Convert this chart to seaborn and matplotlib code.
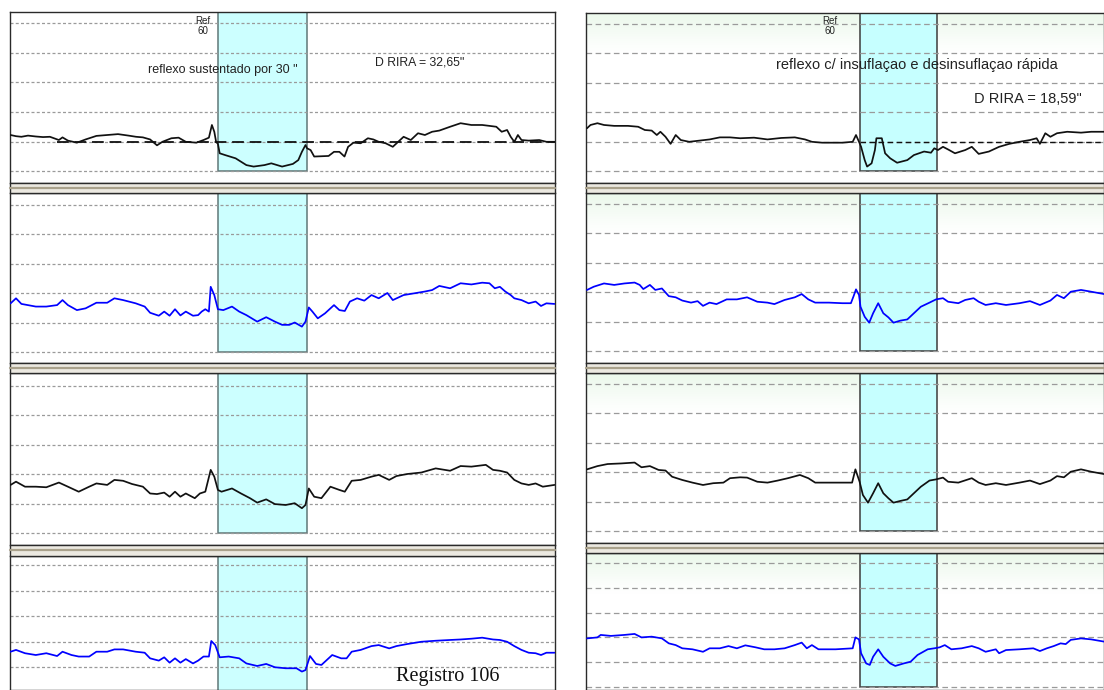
import matplotlib
matplotlib.use("Agg")
import matplotlib.pyplot as plt
import pandas as pd
import seaborn as sns
from matplotlib.patches import Rectangle

# ---------------------------------------------------------------------------
# Data: time (s) and signal level (grid units) for each channel strip
# ---------------------------------------------------------------------------
# Left record: sustained reflex (stimulus window 69-99 s)
LEFT_WINDOW = (69.2, 99.1)
LEFT_CH1 = [(0.2, 1.22), (2.0, 1.18), (3.8, 1.16), (6.0, 1.20), (8.6, 1.17), (11.0, 1.15),
            (13.3, 1.16), (16.3, 1.05), (17.5, 1.14), (19.3, 1.03), (22.3, 0.96), (25.2, 1.07),
            (28.8, 1.19), (32.4, 1.22), (36.0, 1.25), (39.5, 1.20), (42.0, 1.16), (44.3, 1.14),
            (46.7, 1.07), (49.0, 0.87), (50.8, 0.99), (53.8, 1.11), (56.2, 1.13), (58.6, 0.99),
            (62.1, 0.96), (64.5, 1.05), (66.3, 1.13), (67.3, 1.56), (68.1, 1.33), (68.7, 0.99),
            (69.3, 0.92), (69.9, 0.60), (71.7, 0.54), (75.2, 0.43), (78.8, 0.20), (81.2, 0.15),
            (84.8, 0.20), (87.1, 0.26), (90.7, 0.15), (94.3, 0.24), (96.1, 0.37), (97.3, 0.65),
            (98.5, 0.88), (99.0, 0.77), (100.2, 0.71), (101.4, 0.49), (106.2, 0.51), (108.0, 0.65),
            (109.8, 0.65), (111.5, 0.49), (112.7, 0.82), (114.5, 0.96), (116.9, 0.94), (119.3, 1.11),
            (121.1, 1.07), (122.9, 0.99), (125.2, 0.94), (127.6, 0.82), (129.4, 0.99), (131.2, 1.16),
            (133.6, 1.05), (136.0, 1.28), (138.3, 1.22), (140.7, 1.33), (143.1, 1.37), (146.7, 1.50),
            (150.2, 1.62), (153.8, 1.56), (157.4, 1.56), (159.8, 1.53), (162.1, 1.50), (163.9, 1.33),
            (165.7, 1.39), (166.9, 1.16), (168.1, 0.99), (169.3, 1.22), (170.5, 1.05), (172.9, 1.03),
            (176.4, 1.05), (178.8, 0.99), (181.5, 0.99)]
LEFT_CH2 = [(0.2, 1.65), (2.0, 1.82), (3.8, 1.63), (8.6, 1.54), (12.1, 1.54), (15.7, 1.59),
            (17.5, 1.76), (19.3, 1.59), (22.3, 1.42), (25.2, 1.48), (28.8, 1.67), (32.4, 1.67),
            (34.8, 1.82), (37.7, 1.76), (41.9, 1.65), (44.9, 1.54), (46.7, 1.33), (49.6, 1.23),
            (51.4, 1.37), (53.2, 1.23), (55.0, 1.45), (56.8, 1.24), (58.6, 1.37), (61.0, 1.23),
            (62.7, 1.25), (63.9, 1.37), (65.1, 1.45), (66.3, 1.37), (66.9, 2.21), (68.1, 1.93),
            (69.3, 1.45), (71.1, 1.42), (74.0, 1.54), (76.4, 1.37), (78.8, 1.25), (82.4, 1.03),
            (85.4, 1.18), (88.3, 1.03), (90.7, 0.92), (93.1, 0.92), (94.9, 1.00), (97.3, 0.86),
            (98.5, 1.03), (99.6, 1.51), (100.8, 1.37), (102.6, 1.14), (105.0, 1.31), (108.0, 1.59),
            (109.8, 1.42), (111.6, 1.39), (113.3, 1.71), (115.7, 1.82), (118.1, 1.74), (120.5, 1.93),
            (122.9, 1.82), (125.8, 2.00), (127.6, 1.76), (131.2, 1.93), (134.8, 1.99), (138.3, 2.05),
            (140.7, 2.10), (143.1, 2.24), (146.7, 2.16), (150.2, 2.33), (153.8, 2.29), (157.4, 2.35),
            (159.8, 2.33), (161.6, 2.16), (163.3, 2.21), (165.1, 2.05), (166.9, 1.93), (168.1, 1.82),
            (170.5, 1.76), (172.9, 1.65), (175.2, 1.71), (177.0, 1.56), (178.8, 1.65), (181.5, 1.63)]
LEFT_CH3 = [(0.2, 1.63), (2.0, 1.74), (5.0, 1.57), (8.6, 1.57), (12.1, 1.55), (16.3, 1.71),
            (19.3, 1.57), (22.9, 1.40), (26.4, 1.57), (28.8, 1.68), (32.4, 1.63), (34.8, 1.80),
            (37.7, 1.77), (40.7, 1.66), (44.3, 1.57), (46.7, 1.34), (49.0, 1.32), (51.4, 1.37),
            (53.2, 1.23), (55.0, 1.40), (56.8, 1.23), (58.6, 1.34), (61.6, 1.18), (63.3, 1.34),
            (65.1, 1.40), (66.9, 2.14), (68.1, 1.91), (69.3, 1.46), (70.5, 1.40), (74.0, 1.51),
            (77.0, 1.34), (80.0, 1.18), (82.4, 1.03), (85.4, 1.14), (88.3, 0.98), (91.9, 0.95),
            (94.9, 1.01), (97.3, 0.84), (98.5, 0.95), (99.6, 1.51), (101.4, 1.23), (103.8, 1.18),
            (106.8, 1.57), (109.8, 1.46), (111.6, 1.40), (113.9, 1.77), (116.9, 1.80), (120.5, 1.91),
            (122.9, 1.97), (126.4, 1.80), (128.8, 1.93), (132.4, 2.00), (137.1, 2.05), (141.9, 2.19),
            (146.7, 2.11), (150.2, 2.27), (153.8, 2.25), (158.6, 2.31), (161.0, 2.14), (163.3, 2.11),
            (165.7, 2.05), (168.1, 1.80), (170.5, 1.68), (172.9, 1.63), (175.2, 1.68), (177.6, 1.57),
            (181.5, 1.63)]
LEFT_CH4 = [(0.2, 1.60), (2.0, 1.67), (5.0, 1.54), (8.6, 1.47), (12.1, 1.54), (15.7, 1.43),
            (17.5, 1.60), (20.5, 1.47), (22.9, 1.41), (26.4, 1.41), (28.8, 1.60), (32.4, 1.60),
            (34.8, 1.69), (37.7, 1.69), (41.9, 1.60), (44.9, 1.56), (46.7, 1.34), (49.6, 1.25),
            (51.4, 1.38), (53.2, 1.17), (55.0, 1.34), (56.8, 1.17), (58.6, 1.31), (61.0, 1.14),
            (62.7, 1.25), (64.5, 1.41), (66.3, 1.41), (67.1, 2.02), (68.4, 1.86), (69.9, 1.38),
            (72.9, 1.41), (76.4, 1.34), (78.8, 1.14), (82.4, 1.04), (85.4, 1.12), (88.3, 0.99),
            (91.9, 0.95), (95.5, 0.95), (97.3, 0.82), (98.5, 0.88), (100.0, 1.43), (102.0, 1.12),
            (103.8, 1.08), (107.4, 1.47), (110.4, 1.34), (112.2, 1.34), (113.9, 1.60), (116.9, 1.67),
            (120.5, 1.82), (122.9, 1.86), (126.4, 1.73), (128.8, 1.82), (132.4, 1.90), (137.1, 1.99),
            (141.9, 2.03), (146.7, 2.06), (150.2, 2.08), (153.8, 2.11), (157.4, 2.15), (161.0, 2.08),
            (163.3, 2.06), (165.7, 1.99), (168.1, 1.82), (170.5, 1.67), (172.9, 1.56), (175.2, 1.54),
            (177.0, 1.47), (178.8, 1.56), (181.5, 1.56)]

# Right record: reflex with fast inflation / deflation (stimulus window 91-117 s)
RIGHT_WINDOW = (91.2, 117.1)
RIGHT_CH1 = [(0.35, 1.45), (1.5, 1.56), (3.8, 1.62), (6.0, 1.56), (9.4, 1.53), (14.0, 1.53),
             (17.4, 1.50), (19.6, 1.39), (21.9, 1.37), (23.6, 1.22), (24.8, 1.33), (26.5, 1.16),
             (28.2, 0.92), (29.9, 1.22), (31.6, 1.05), (34.4, 0.99), (37.8, 1.03), (41.2, 1.07),
             (44.6, 1.14), (48.0, 1.14), (51.4, 1.11), (56.0, 1.13), (60.5, 1.07), (65.1, 1.12),
             (69.6, 1.14), (73.0, 1.07), (75.3, 0.99), (78.7, 0.96), (82.1, 0.96), (85.5, 0.96),
             (88.9, 0.99), (90.0, 1.22), (91.0, 0.99), (91.7, 0.82), (92.9, 0.37), (93.7, 0.15),
             (95.2, 0.26), (96.3, 0.71), (96.8, 1.11), (98.6, 1.11), (99.7, 0.60), (101.4, 0.43),
             (103.7, 0.28), (107.1, 0.37), (109.3, 0.54), (112.7, 0.66), (115.0, 0.62), (116.1, 0.77),
             (117.3, 0.71), (119.0, 0.82), (120.7, 0.73), (123.0, 0.60), (126.4, 0.71), (128.6, 0.82),
             (130.9, 0.58), (134.3, 0.66), (137.7, 0.82), (141.1, 0.92), (144.5, 0.99), (148.0, 1.05),
             (150.2, 1.11), (151.3, 0.92), (153.1, 1.28), (154.8, 1.16), (157.0, 1.28), (160.4, 1.33),
             (165.0, 1.30), (168.4, 1.33), (172.7, 1.33)]
RIGHT_CH2 = [(0.35, 2.07), (2.6, 2.18), (6.0, 2.29), (9.4, 2.24), (12.8, 2.29), (16.2, 2.32),
             (17.9, 2.24), (19.1, 2.10), (21.3, 2.24), (23.1, 2.07), (25.3, 2.12), (27.6, 1.86),
             (29.9, 1.82), (32.1, 1.71), (35.0, 1.64), (37.2, 1.69), (39.0, 1.53), (41.2, 1.64),
             (43.5, 1.59), (46.9, 1.75), (50.3, 1.75), (53.7, 1.82), (57.1, 1.67), (60.5, 1.64),
             (62.8, 1.59), (66.2, 1.73), (69.6, 1.82), (71.9, 1.93), (74.1, 1.75), (76.4, 1.64),
             (81.0, 1.64), (85.5, 1.62), (88.3, 1.62), (89.2, 1.86), (90.0, 2.09), (91.0, 1.90),
             (91.5, 1.50), (92.9, 1.16), (94.4, 0.96), (95.7, 1.28), (97.4, 1.62), (99.1, 1.28),
             (100.8, 1.14), (102.5, 0.96), (104.8, 1.03), (107.1, 1.07), (109.3, 1.28), (111.6, 1.50),
             (114.5, 1.64), (116.7, 1.75), (119.0, 1.79), (120.7, 1.67), (124.1, 1.62), (126.4, 1.73),
             (129.2, 1.79), (130.9, 1.67), (133.2, 1.56), (136.6, 1.62), (140.0, 1.56), (144.5, 1.62),
             (148.0, 1.69), (151.3, 1.56), (154.8, 1.71), (157.0, 1.90), (159.3, 1.79), (161.6, 2.01),
             (165.0, 2.07), (168.4, 2.01), (172.7, 1.93)]
RIGHT_CH3 = [(0.35, 2.09), (3.8, 2.20), (7.2, 2.27), (11.7, 2.29), (16.2, 2.32), (18.5, 2.16),
             (21.3, 2.20), (24.2, 2.07), (26.5, 2.05), (28.7, 1.84), (32.1, 1.73), (35.5, 1.64),
             (39.0, 1.56), (42.4, 1.62), (45.8, 1.64), (48.0, 1.79), (51.4, 1.82), (53.7, 1.81),
             (57.1, 1.67), (60.5, 1.64), (63.9, 1.71), (67.3, 1.79), (71.3, 1.90), (74.1, 1.79),
             (76.4, 1.64), (81.0, 1.64), (85.5, 1.64), (88.7, 1.64), (89.8, 2.09), (91.2, 1.67),
             (92.3, 1.22), (94.0, 0.96), (95.7, 1.28), (97.4, 1.62), (99.1, 1.28), (100.8, 1.11),
             (102.5, 0.96), (104.8, 1.02), (107.1, 1.07), (109.3, 1.28), (111.6, 1.50), (114.5, 1.71),
             (116.7, 1.75), (119.0, 1.81), (120.7, 1.67), (124.1, 1.64), (128.6, 1.79), (130.9, 1.64),
             (133.2, 1.56), (136.6, 1.62), (140.0, 1.56), (144.5, 1.64), (148.0, 1.71), (151.3, 1.59),
             (154.8, 1.71), (157.0, 1.86), (159.3, 1.82), (161.6, 2.01), (165.0, 2.09), (168.4, 2.01),
             (172.7, 1.93)]
RIGHT_CH4 = [(0.35, 1.96), (3.8, 2.00), (4.9, 2.10), (8.3, 2.06), (12.8, 2.10), (16.2, 2.14),
             (18.5, 2.00), (21.9, 2.03), (25.3, 1.96), (27.6, 1.76), (29.9, 1.69), (32.1, 1.56),
             (35.5, 1.52), (39.0, 1.42), (41.2, 1.56), (44.6, 1.56), (47.5, 1.65), (50.3, 1.56),
             (53.1, 1.68), (56.5, 1.60), (59.4, 1.52), (62.8, 1.52), (66.2, 1.56), (69.6, 1.69),
             (71.9, 1.79), (73.6, 1.56), (75.3, 1.69), (77.5, 1.52), (83.2, 1.52), (88.9, 1.56),
             (89.8, 2.00), (91.0, 1.92), (91.7, 1.36), (93.4, 0.95), (94.6, 0.89), (95.7, 1.22),
             (97.4, 1.52), (99.1, 1.22), (101.4, 0.95), (103.1, 0.85), (105.9, 0.95), (108.2, 1.02),
             (110.5, 1.29), (113.9, 1.52), (116.1, 1.56), (117.9, 1.60), (119.6, 1.69), (121.8, 1.52),
             (125.2, 1.56), (128.6, 1.65), (130.9, 1.56), (133.2, 1.42), (136.6, 1.52), (137.7, 1.36),
             (140.0, 1.49), (144.5, 1.52), (149.1, 1.56), (151.3, 1.45), (153.6, 1.56), (155.9, 1.65),
             (158.2, 1.76), (159.9, 1.73), (161.6, 1.90), (165.0, 1.96), (168.4, 1.92), (172.7, 1.83)]

CHANNEL_COLORS = ["#111111", "#0000ff", "#111111", "#0000ff"]
GRID_LEVELS = [0, 1, 2, 3, 4, 5]
REFERENCE_LEVEL = 1.0

LEFT_TITLE = 'reflexo sustentado por 30 "'
LEFT_RESULT = 'D RIRA = 32,65"'
RIGHT_TITLE = "reflexo c/ insuflaçao e desinsuflaçao rápida"
RIGHT_RESULT = 'D RIRA = 18,59"'
REF_LABEL = "Ref\n60"
RECORD_LABEL = "Registro 106"

# ---------------------------------------------------------------------------
sns.set_theme(style="white")
plt.rcParams["font.family"] = ["Liberation Sans", "DejaVu Sans"]

W, H = 1104, 690
fig = plt.figure(figsize=(W / 100, H / 100), dpi=100)
fig.patch.set_facecolor("white")


def fig_rect(x0, y0, x1, y1):
    return [x0 / W, 1 - y1 / H, (x1 - x0) / W, (y1 - y0) / H]


# strip frames in pixels: (x0, top, x1, bottom, baseline_px, grid_spacing_px)
LEFT_STRIPS = [(10, 12, 555, 183, 171, 29.5), (10, 193, 555, 363, 352, 29.5),
               (10, 373, 555, 545, 533, 29.5), (10, 556, 555, 690, 692.5, 25.5)]
RIGHT_STRIPS = [(586, 13, 1104, 183, 171, 29.5), (586, 193, 1104, 363, 351, 29.5),
                (586, 373, 1104, 543, 531, 29.5), (586, 553, 1104, 690, 687, 24.8)]
LEFT_SEPARATORS = [(183, 193), (363, 373), (545, 556)]
RIGHT_SEPARATORS = [(183, 193), (363, 373), (543, 553)]


def draw_strip(box, trace, color, window, grid_dash, tint, cyan, cyan_edge):
    x0, top, x1, bottom, base, step = box
    ax = fig.add_axes(fig_rect(x0, top, x1, bottom))
    ymax = (base - top) / step
    ymin = -(bottom - base) / step
    xmax = (x1 - x0) / 3.0

    if tint:
        grad = [[(0.93, 0.98, 0.93, a)] for a in (1.0, 0.85, 0.65, 0.45, 0.25, 0.1, 0.0)]
        ax.imshow(grad, extent=(0, xmax, ymax - 45 / step, ymax), aspect="auto",
                  interpolation="bilinear", zorder=0)

    ax.add_patch(Rectangle((window[0], 0), window[1] - window[0], ymax + 1,
                           facecolor=cyan, edgecolor=cyan_edge, linewidth=1.1, zorder=1))
    for lv in GRID_LEVELS:
        ax.axhline(lv, color="#9a9a9a", linewidth=0.9, linestyle=(0, grid_dash), zorder=2)

    df = pd.DataFrame(trace, columns=["t", "v"])
    sns.lineplot(data=df, x="t", y="v", ax=ax, color=color, linewidth=1.25,
                 estimator=None, sort=False, legend=False, zorder=4)

    ax.set_xlim(0, xmax)
    ax.set_ylim(ymin, ymax)
    ax.set_xticks([])
    ax.set_yticks([])
    ax.set_xlabel("")
    ax.set_ylabel("")
    for s in ax.spines.values():
        s.set_color("#2a2a2a")
        s.set_linewidth(1.0)
    return ax


def draw_separators(x0, x1, seps):
    for ya, yb in seps:
        fig.add_artist(Rectangle((x0 / W, 1 - yb / H), (x1 - x0) / W, (yb - ya) / H,
                                 transform=fig.transFigure, facecolor="#ece9e1",
                                 edgecolor="#2a2a2a", linewidth=1.0, zorder=5))
        ym = ya + (yb - ya) * 0.45
        fig.add_artist(plt.Line2D([x0 / W, x1 / W], [1 - ym / H, 1 - ym / H],
                                  transform=fig.transFigure, color="#aaa28c",
                                  linewidth=1.6, zorder=6))


left_traces = [LEFT_CH1, LEFT_CH2, LEFT_CH3, LEFT_CH4]
right_traces = [RIGHT_CH1, RIGHT_CH2, RIGHT_CH3, RIGHT_CH4]

left_axes = [draw_strip(b, tr, c, LEFT_WINDOW, (2.4, 1.8), False, "#ccffff", "#5f7878")
             for b, tr, c in zip(LEFT_STRIPS, left_traces, CHANNEL_COLORS)]
right_axes = [draw_strip(b, tr, c, RIGHT_WINDOW, (4.5, 2.8), True, "#c6ffff", "#3c3c3c")
              for b, tr, c in zip(RIGHT_STRIPS, right_traces, CHANNEL_COLORS)]

draw_separators(10, 555, LEFT_SEPARATORS)
draw_separators(586, 1104, RIGHT_SEPARATORS)

# reference levels on the first channel
axL = left_axes[0]
axL.plot([15.7, 182], [REFERENCE_LEVEL, REFERENCE_LEVEL], color="#111111", linewidth=1.3,
         linestyle=(0, (6.5, 3.2)), zorder=3)
axR = right_axes[0]
axR.plot([RIGHT_WINDOW[0], 173], [REFERENCE_LEVEL, REFERENCE_LEVEL], color="#111111",
         linewidth=1.0, linestyle=(0, (4.0, 2.5)), zorder=3)

# annotations
axL.text(64.3, 4.92, REF_LABEL, ha="center", va="center", fontsize=7.0,
         linespacing=1.05, color="#222222", zorder=6)
axL.text(71.0, 3.42, LEFT_TITLE, ha="center", va="center", fontsize=9.0,
         color="#222222", zorder=6)
axL.text(136.5, 3.69, LEFT_RESULT, ha="center", va="center", fontsize=8.8,
         color="#222222", zorder=6)
axR.text(81.3, 4.92, REF_LABEL, ha="center", va="center", fontsize=7.0,
         linespacing=1.05, color="#222222", zorder=6)
axR.text(110.3, 3.59, RIGHT_TITLE, ha="center", va="center", fontsize=10.5,
         color="#222222", zorder=6)
axR.text(147.3, 2.44, RIGHT_RESULT, ha="center", va="center", fontsize=10.5,
         color="#222222", zorder=6)
left_axes[3].text(145.8, 0.61, RECORD_LABEL, ha="center", va="center", fontsize=14.5,
                  family=["Liberation Serif", "DejaVu Serif"], color="#111111", zorder=6)

fig.savefig("out.png", dpi=100, facecolor="white")
